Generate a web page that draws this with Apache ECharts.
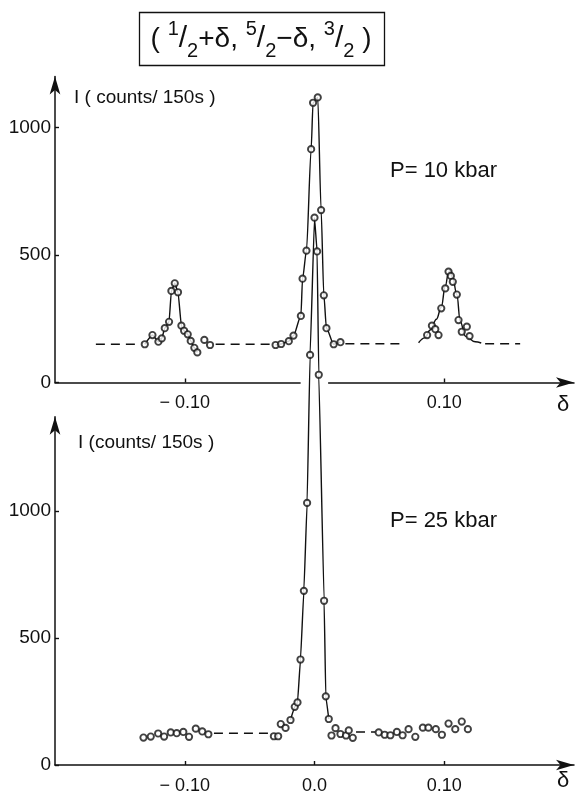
<!DOCTYPE html>
<html>
<head>
<meta charset="utf-8">
<script src="https://cdn.jsdelivr.net/npm/echarts@6/dist/echarts.min.js"></script>
<style>
  html, body { margin: 0; padding: 0; background: #fff; }
  #c { width: 576px; height: 795px; }
</style>
</head>
<body>
<div id="c"></div>
<script>
// Intensity scans along (1/2+δ, 5/2−δ, 3/2): points are [δ, counts per 150 s]

// ---- P = 10 kbar ----
const satLeft10 = [
  [-0.1308, 150], [-0.1249, 186], [-0.1203, 160], [-0.1177, 173], [-0.1154, 213],
  [-0.1121, 238], [-0.1103, 359], [-0.1077, 389], [-0.1052, 354], [-0.1026, 223],
  [-0.1005, 203], [-0.0977, 189], [-0.0954, 163], [-0.0926, 136], [-0.0903, 118]
];
const satLeft10Extra = [[-0.0849, 167], [-0.0805, 147]];
const center10 = [
  [-0.0300, 147], [-0.0257, 151], [-0.0198, 162], [-0.0162, 184], [-0.0105, 261],
  [-0.0092, 407], [-0.0062, 517], [-0.0026, 915], [-0.0011, 1097], [0.0025, 1118],
  [0.0051, 676], [0.0072, 342], [0.0092, 213], [0.0148, 150], [0.0200, 158]
];
const satRight10 = [
  [0.0868, 186], [0.0905, 223], [0.0931, 209], [0.0956, 186], [0.0977, 291],
  [0.1008, 369], [0.1033, 435], [0.1051, 418], [0.1066, 395], [0.1097, 345],
  [0.1110, 245], [0.1135, 199], [0.1174, 219], [0.1195, 182]
];
// fitted profile of the +δ satellite
const satRight10Fit = [
  [0.0802, 156], [0.0850, 175], [0.0892, 206], [0.0940, 248], [0.0977, 295],
  [0.1008, 378], [0.1033, 432], [0.1046, 441], [0.1066, 408], [0.1097, 345],
  [0.1123, 240], [0.1162, 182], [0.1238, 160], [0.1285, 155]
];
// background level, dashed: [δ from, δ to, counts]
const base10 = [
  [-0.1685, -0.1340, 150], [-0.0762, -0.0326, 150],
  [0.0238, 0.0674, 152], [0.1315, 0.1585, 152]
];

// ---- P = 25 kbar ----
const left25 = [
  [-0.1318, 108], [-0.1262, 112], [-0.1205, 124], [-0.1159, 112], [-0.1108, 128],
  [-0.1062, 125], [-0.1011, 130], [-0.0967, 111], [-0.0915, 143], [-0.0865, 132],
  [-0.0818, 121]
];
const wingL25 = [[-0.0313, 113], [-0.0280, 113], [-0.0260, 161], [-0.0223, 146]];
const peak25 = [
  [-0.0185, 177], [-0.0152, 229], [-0.0131, 246], [-0.0108, 415], [-0.0082, 685],
  [-0.0057, 1031], [-0.0034, 1613], [0.0000, 2153], [0.0020, 2020], [0.0033, 1535],
  [0.0074, 646], [0.0087, 270], [0.0110, 181]
];
const wingR25 = [
  [0.0131, 116], [0.0162, 145], [0.0200, 122], [0.0243, 116], [0.0264, 136], [0.0295, 107]
];
const right25 = [
  [0.0495, 128], [0.0541, 119], [0.0585, 117], [0.0635, 130], [0.0679, 117],
  [0.0725, 141], [0.0777, 111], [0.0835, 147], [0.0878, 147], [0.0935, 141],
  [0.0982, 119], [0.1033, 163], [0.1085, 141], [0.1135, 171], [0.1182, 141]
];
const base25 = [[-0.0775, -0.0320, 125], [0.0320, 0.0470, 130]];

// axis ticks
const xTicksTop = [-0.1, 0.1];
const xTicksBottom = [-0.1, 0, 0.1];
const yTicks = [0, 500, 1000];

const FONT = 'Liberation Sans';
const INK = '#111';

function xLabel(v) {
  if (v === 0) return '0.0';
  return v < 0 ? '\u2212 ' + Math.abs(v).toFixed(2) : v.toFixed(2);
}

function xAxisOpt(grid, ticks) {
  return {
    type: 'value', gridIndex: grid, min: -0.2, max: 0.2,
    axisLine: { onZero: false, symbol: ['none', 'arrow'], symbolSize: [8, 18],
                lineStyle: { color: INK, width: 1.5 } },
    axisTick: { inside: true, length: 4, customValues: ticks, lineStyle: { color: INK, width: 1.4 } },
    axisLabel: { customValues: ticks, formatter: xLabel, color: INK, fontSize: 18,
                 fontFamily: FONT, margin: 12 },
    splitLine: { show: false }
  };
}
function yAxisOpt(grid, max) {
  return {
    type: 'value', gridIndex: grid, min: 0, max: max,
    axisLine: { show: true, onZero: false, symbol: ['none', 'arrow'], symbolSize: [8, 18],
                lineStyle: { color: INK, width: 1.5 } },
    axisTick: { show: true, inside: true, length: 4, customValues: yTicks, lineStyle: { color: INK, width: 1.4 } },
    axisLabel: { customValues: yTicks, formatter: v => String(v), color: INK, fontSize: 19,
                 fontFamily: FONT, margin: 4 },
    splitLine: { show: false }
  };
}

function dashed(segs, axis) {
  return segs.map(s => ({
    type: 'line', xAxisIndex: axis, yAxisIndex: axis, symbol: 'none', silent: true,
    data: [[s[0], s[2]], [s[1], s[2]]],
    lineStyle: { color: INK, width: 1.4, type: [9, 6] }, z: 2
  }));
}
function curve(data, axis, smooth, clip) {
  return {
    type: 'line', xAxisIndex: axis, yAxisIndex: axis, symbol: 'none', silent: true,
    data: data, smooth: smooth, smoothMonotone: 'x', clip: clip !== false,
    lineStyle: { color: INK, width: 1.4 }, z: 2
  };
}
function points(data, axis, clip) {
  return {
    type: 'scatter', xAxisIndex: axis, yAxisIndex: axis, data: data,
    symbol: 'circle', symbolSize: 6.3, clip: clip !== false,
    itemStyle: { color: '#fff', borderColor: INK, borderWidth: 1.9 }, z: 3
  };
}

const chart = echarts.init(document.getElementById('c'));
chart.setOption({
  animation: false,
  backgroundColor: '#fff',
  grid: [
    { left: 55, right: 2, top: 76.5, bottom: 412.5 },
    { left: 55, right: 2, top: 416.7, bottom: 27.3 }
  ],
  xAxis: [xAxisOpt(0, xTicksTop), xAxisOpt(1, xTicksBottom)],
  yAxis: [yAxisOpt(0, 1200), yAxisOpt(1, 1370)],
  series: [
    ...dashed(base10, 0),
    curve(satLeft10, 0, 0.15),
    curve(center10, 0, 0.25),
    curve(satRight10Fit, 0, 0.4),
    points(satLeft10.concat(satLeft10Extra, center10, satRight10), 0),
    ...dashed(base25, 1),
    curve(peak25, 1, 0.1, false),
    points(left25.concat(wingL25, peak25, wingR25, right25), 1, false)
  ]
});

// break in the upper δ axis where the 25 kbar peak passes through it
const g0 = chart.convertToPixel({ xAxisIndex: 0, yAxisIndex: 0 }, [-0.0107, 0]);
const g1 = chart.convertToPixel({ xAxisIndex: 0, yAxisIndex: 0 }, [0.0105, 0]);

const textStyle = (t, size) => ({ text: t, fill: INK, font: size + 'px "' + FONT + '"' });

chart.setOption({
  graphic: [
    { type: 'rect', z: 1, shape: { x: g0[0], y: g0[1] - 3, width: g1[0] - g0[0], height: 6 },
      style: { fill: '#fff' }, silent: true },
    { type: 'rect', shape: { x: 139.5, y: 12.5, width: 245, height: 53 },
      style: { fill: 'none', stroke: INK, lineWidth: 1.3 } },
    { type: 'text', x: 261, y: 39,
      style: {
        text: '{p|( }{n|1}{s|/}{d|2}{p|+\u03b4, }{n|5}{s|/}{d|2}{p|\u2212\u03b4, }{n|3}{s|/}{d|2}{p| )}',
        align: 'center', verticalAlign: 'middle', fill: INK, fontFamily: FONT,
        rich: {
          p: { fontSize: 28, fontFamily: FONT, lineHeight: 44, fill: INK },
          n: { fontSize: 20, fontFamily: FONT, lineHeight: 44, verticalAlign: 'top', padding: [2, 0, 0, 0], fill: INK },
          s: { fontSize: 30, fontFamily: FONT, lineHeight: 44, fill: INK },
          d: { fontSize: 20, fontFamily: FONT, lineHeight: 44, verticalAlign: 'bottom', fill: INK }
        }
      } },
    { type: 'text', x: 390, y: 171, style: Object.assign(textStyle('P= 10 kbar', 22), { verticalAlign: 'middle' }) },
    { type: 'text', x: 390, y: 521, style: Object.assign(textStyle('P= 25 kbar', 22), { verticalAlign: 'middle' }) },
    { type: 'text', x: 74, y: 98, style: Object.assign(textStyle('I ( counts/ 150s )', 19), { verticalAlign: 'middle' }) },
    { type: 'text', x: 78, y: 443, style: Object.assign(textStyle('I (counts/ 150s )', 19), { verticalAlign: 'middle' }) },
    { type: 'text', x: 563, y: 405, style: Object.assign(textStyle('\u03b4', 22), { align: 'center', verticalAlign: 'middle' }) },
    { type: 'text', x: 563, y: 781, style: Object.assign(textStyle('\u03b4', 22), { align: 'center', verticalAlign: 'middle' }) }
  ]
});
</script>
</body>
</html>
